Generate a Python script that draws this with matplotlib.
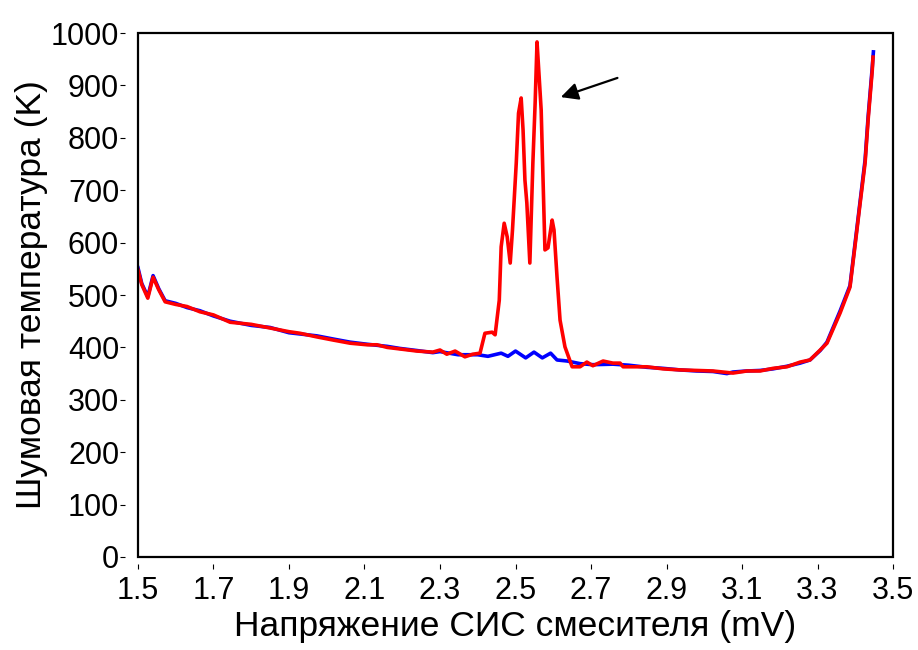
import matplotlib
matplotlib.use('Agg')
import matplotlib.pyplot as plt
from matplotlib.patches import Rectangle

plt.rcParams['font.family'] = ['Liberation Sans', 'DejaVu Sans']

# Mixer bias voltage (mV) and noise temperature (K)
blue_v = [1.500, 1.510, 1.526, 1.540, 1.555, 1.572, 1.600, 1.630, 1.664, 1.700,
          1.744, 1.800, 1.850, 1.900, 1.974, 2.017, 2.062, 2.107, 2.160, 2.194,
          2.239, 2.281, 2.300, 2.348, 2.400, 2.427, 2.462, 2.480, 2.500, 2.527,
          2.549, 2.571, 2.593, 2.610, 2.637, 2.671, 2.705, 2.758, 2.800, 2.848,
          2.891, 2.936, 2.980, 3.023, 3.060, 3.076, 3.113, 3.148, 3.182, 3.219,
          3.254, 3.280, 3.307, 3.325, 3.360, 3.386, 3.399, 3.413, 3.426, 3.434,
          3.445, 3.448]
blue_t = [552, 522, 497, 537, 512, 489, 484, 476, 470, 460,
          450, 442, 438, 428, 422, 416, 410, 406, 402, 398,
          394, 390, 392, 386, 386, 383, 389, 383, 393, 380,
          391, 380, 389, 376, 374, 369, 367, 368, 366, 362,
          360, 357, 355, 354, 350, 353, 355, 356, 359, 364,
          370, 376, 394, 410, 470, 518, 596, 680, 758, 840,
          935, 964]

red_v = [1.500, 1.510, 1.526, 1.540, 1.555, 1.572, 1.600, 1.630, 1.664, 1.700,
         1.744, 1.800, 1.850, 1.900, 1.929, 1.974, 2.017, 2.062, 2.107, 2.133,
         2.160, 2.194, 2.239, 2.281, 2.300, 2.318, 2.340, 2.366, 2.387, 2.406,
         2.419, 2.438, 2.446, 2.457, 2.462, 2.470, 2.478, 2.486, 2.492, 2.502,
         2.508, 2.515, 2.520, 2.525, 2.530, 2.538, 2.546, 2.552, 2.557, 2.562,
         2.568, 2.573, 2.578, 2.586, 2.597, 2.602, 2.610, 2.618, 2.631, 2.650,
         2.671, 2.689, 2.705, 2.732, 2.758, 2.777, 2.785, 2.848, 2.891, 2.936,
         2.980, 3.023, 3.076, 3.113, 3.148, 3.182, 3.219, 3.254, 3.280, 3.307,
         3.325, 3.360, 3.386, 3.399, 3.413, 3.426, 3.434, 3.445, 3.447]
red_t = [548, 520, 494, 534, 510, 487, 482, 478, 468, 462,
         448, 444, 437, 430, 427, 420, 414, 408, 405, 405,
         400, 397, 393, 391, 395, 387, 393, 382, 387, 389,
         427, 429, 424, 490, 592, 637, 611, 561, 624, 752,
         847, 876, 815, 719, 676, 561, 752, 866, 983, 924,
         853, 719, 586, 590, 643, 624, 534, 452, 401, 363,
         363, 372, 365, 374, 370, 370, 363, 363, 359, 357,
         356, 355, 351, 355, 355, 360, 363, 372, 376, 395,
         408, 466, 515, 592, 676, 752, 834, 929, 954]

x_ticks = [1.5, 1.7, 1.9, 2.1, 2.3, 2.5, 2.7, 2.9, 3.1, 3.3, 3.5]
y_ticks = [0, 100, 200, 300, 400, 500, 600, 700, 800, 900, 1000]

fig = plt.figure(figsize=(9.18, 6.5), dpi=100)
ax = fig.add_axes([0.1503, 0.1431, 0.8225, 0.8061])

ax.plot(blue_v, blue_t, color='#0000ff', lw=2.6)
ax.plot(red_v, red_t, color='#ff0000', lw=2.6)

ax.set_xlim(1.5, 3.5)
ax.set_ylim(0, 1000)
ax.set_xticks(x_ticks)
ax.set_yticks(y_ticks)
ax.set_xticklabels([f'{v:.1f}' for v in x_ticks])

# ticks sit a little away from the frame, as in the original
for side in ['top', 'right']:
    ax.spines[side].set_visible(False)
ax.spines['left'].set_position(('outward', 9))
ax.spines['bottom'].set_position(('outward', 5))
ax.spines['left'].set_visible(False)
ax.spines['bottom'].set_visible(False)
ax.add_patch(Rectangle((0, 0), 1, 1, transform=ax.transAxes, fill=False,
                       lw=1.6, edgecolor='black', clip_on=False, zorder=5))

ax.tick_params(direction='out', length=3.5, width=0.8, labelsize=22, pad=1)
ax.tick_params(axis='x', pad=5)

ax.set_xlabel('Напряжение СИС смесителя (mV)', fontsize=25.5, labelpad=3)
ax.set_ylabel('Шумовая температура (K)', fontsize=25.5, labelpad=2)

ax.annotate('', xy=(2.613, 876), xytext=(2.777, 916),
            arrowprops=dict(arrowstyle='-|>', color='black', lw=1.6,
                            mutation_scale=26))

fig.savefig('out.png', dpi=100)
